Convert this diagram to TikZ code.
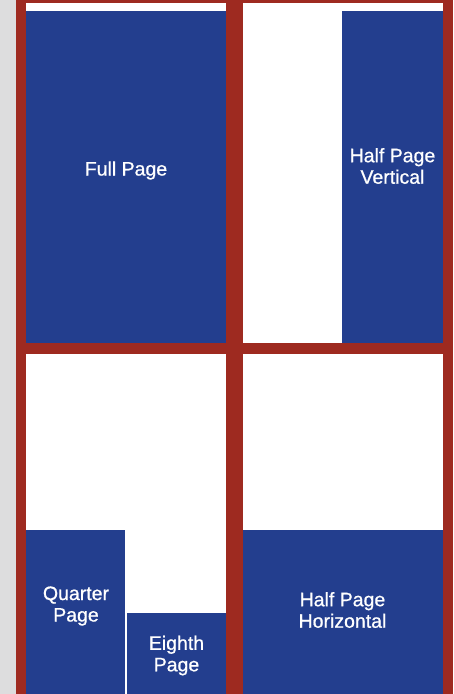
\documentclass[tikz,border=0pt]{standalone}
\usepackage{fontspec}
\font\labelfont="Liberation Sans:embolden=0.8" at 19.5pt
\usepackage{xcolor}
\definecolor{adblue}{RGB}{35,62,142}
\definecolor{frame}{RGB}{158,42,32}
\definecolor{margin}{RGB}{221,221,222}

\begin{document}
\begin{tikzpicture}[x=1pt,y=-1pt,
  label/.style={text=white,align=center,inner sep=0pt,font={\labelfont\baselineskip=21.5pt}}]
\useasboundingbox (0,0) rectangle (453,694);
\fill[margin] (0,0) rectangle (16,694);
\fill[frame] (16,0) rectangle (453,694);
% the four page panels
\fill[white] (26,3) rectangle (226,343);
\fill[white] (243,3) rectangle (443,343);
\fill[white] (26,354) rectangle (226,694);
\fill[white] (243,354) rectangle (443,694);
% ad sizes
\fill[adblue] (26,11) rectangle (226,343);
\fill[adblue] (342,11) rectangle (443,343);
\fill[adblue] (26,530) rectangle (125,694);
\fill[adblue] (127,613) rectangle (226,694);
\fill[adblue] (243,530) rectangle (443,694);
\node[label] (full) at (126,170.5) {Full Page};
\node[label] (halfv) at (392.5,166) {Half Page\\Vertical};
\node[label] (quarter) at (76,606) {Quarter\\Page};
\node[label] (eighth) at (176.5,655.5) {Eighth\\Page};
\node[label] (halfh) at (342.5,610) {Half Page\\Horizontal};
\end{tikzpicture}
\end{document}
